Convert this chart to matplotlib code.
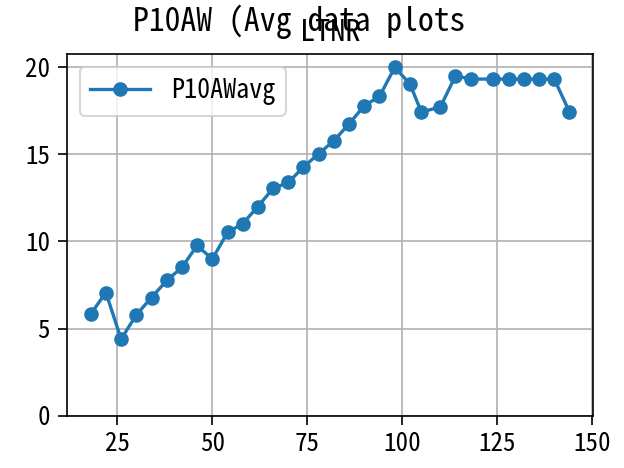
import matplotlib
matplotlib.use("Agg")
from matplotlib import pyplot as plt
from matplotlib.ticker import MultipleLocator

plt.rcParams['font.family'] = ['Noto Sans Mono CJK SC', 'Noto Sans CJK SC', 'DejaVu Sans']
plt.rcParams['axes.unicode_minus'] = False
plt.rcParams['xtick.labelsize'] = 12
plt.rcParams['ytick.labelsize'] = 12
plt.rcParams['xtick.major.size'] = 4.5
plt.rcParams['ytick.major.size'] = 4.5

# P10AW averaged readings
x_vals = [18, 22, 26, 30, 34, 38, 42, 46, 50, 54, 58, 62, 66, 70, 74, 78,
          82, 86, 90, 94, 98, 102, 105, 110, 114, 118, 124, 128, 132, 136, 140, 144]
y_vals = [5.83, 7.07, 4.39, 5.79, 6.78, 7.76, 8.51, 9.77, 8.99, 10.52, 11.02, 12.01,
          13.05, 13.39, 14.28, 15.04, 15.79, 16.76, 17.8, 18.33, 20.0, 19.06, 17.44,
          17.72, 19.52, 19.33, 19.33, 19.33, 19.33, 19.33, 19.33, 17.44]
series_name = "P10AWavg"

fig = plt.figure(figsize=(4.16, 3.12), dpi=150)
ax = fig.add_subplot(111)
fig.subplots_adjust(left=0.107, right=0.951, bottom=0.112, top=0.885)

ax.plot(x_vals, y_vals, marker='o', lw=1.6, label=series_name)
ax.set_ylim(bottom=0)
ax.xaxis.set_major_locator(MultipleLocator(25))
ax.grid(True)
ax.legend(loc='upper left', fontsize=12.5, handlelength=2.3)
ax.set_title("LTNR", fontsize=14.5, pad=6)
fig.suptitle("P10AW (Avg data plots", x=0.48, fontsize=15.2, y=0.99)

fig.savefig("out.png", dpi=150)
